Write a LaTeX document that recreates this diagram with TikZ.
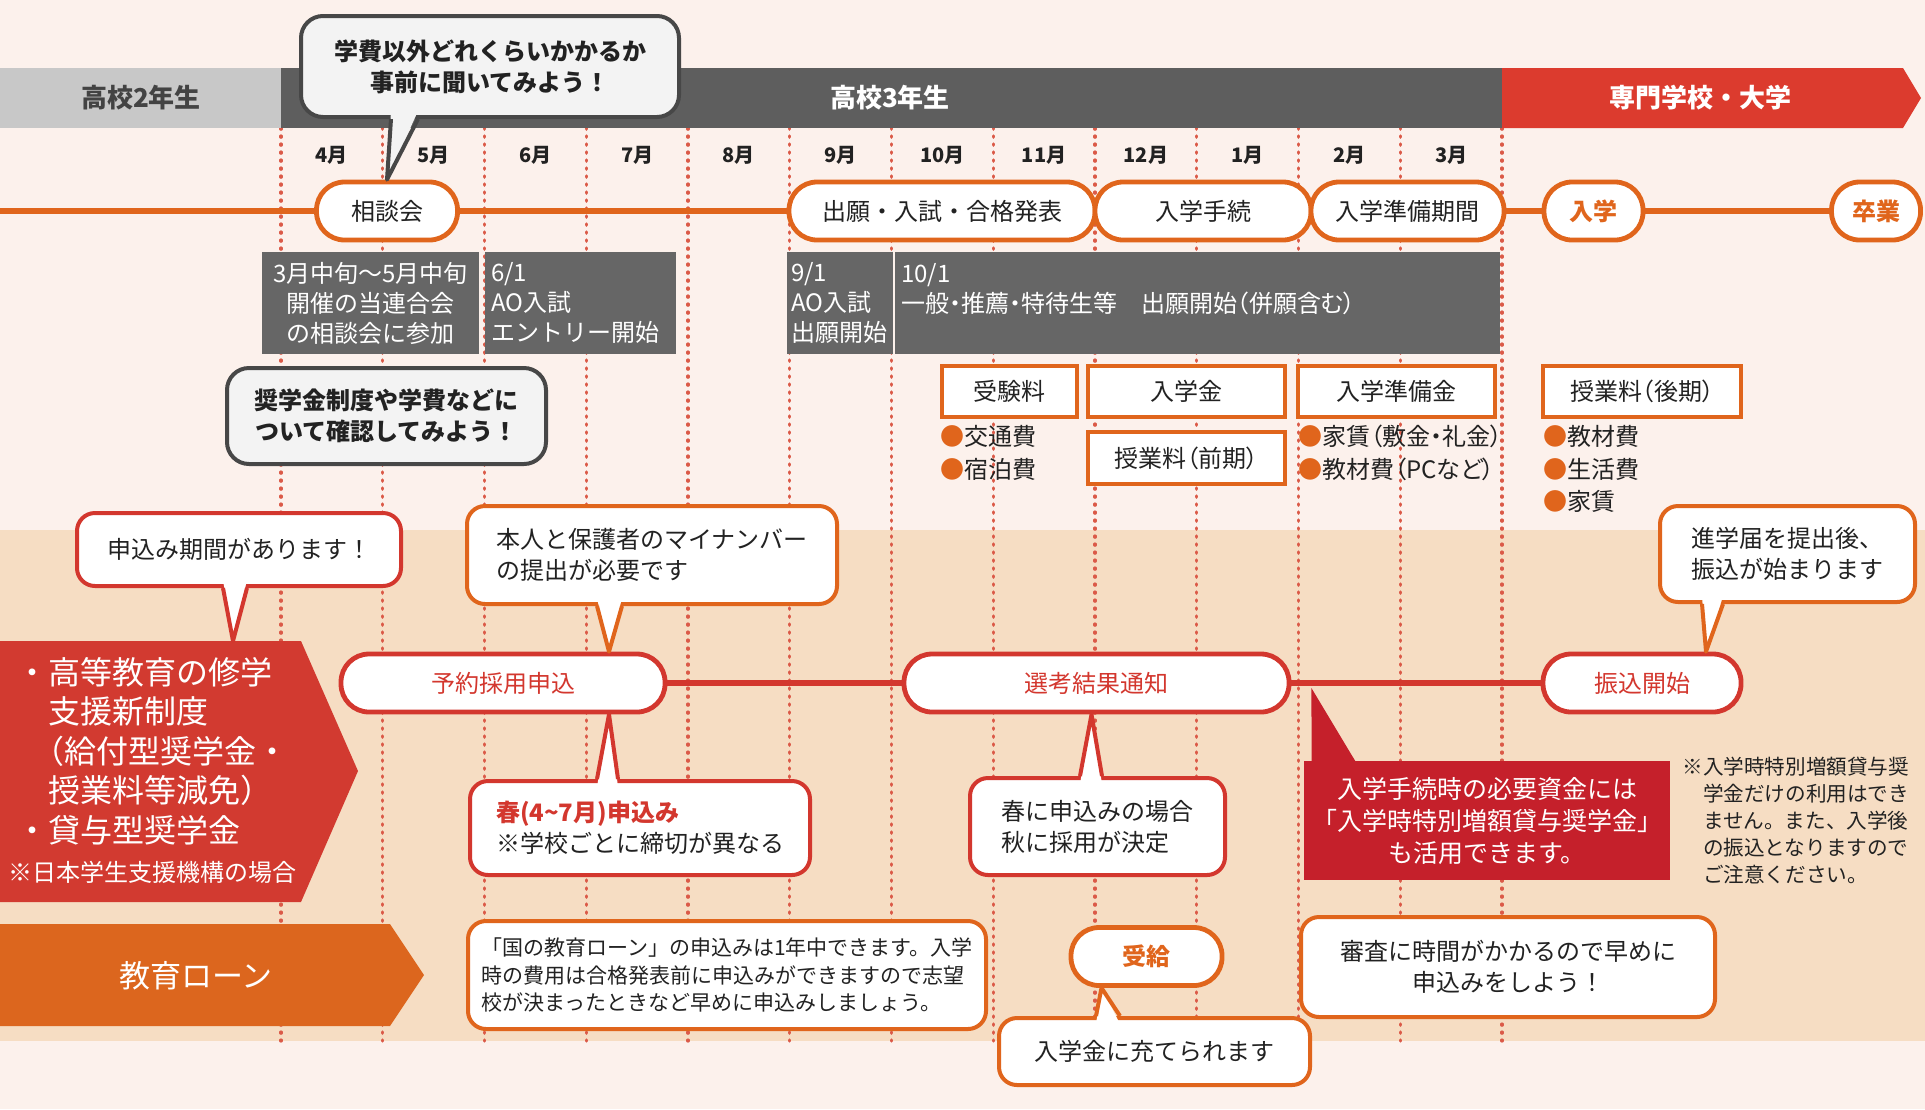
\documentclass[tikz,border=0pt]{standalone}
\usepackage{fontspec}
\setmainfont{Noto Sans CJK JP}
\usetikzlibrary{calc}

\definecolor{bgpink}{HTML}{FCF1EC}
\definecolor{bgtan}{HTML}{F6DDC3}
\definecolor{bandlight}{HTML}{C8C8C8}
\definecolor{banddark}{HTML}{5E5E5E}
\definecolor{bandred}{HTML}{DC3B2E}
\definecolor{tlorange}{HTML}{E0651C}
\definecolor{tlred}{HTML}{D3372E}
\definecolor{shienred}{HTML}{D23A30}
\definecolor{loanorange}{HTML}{DC661E}
\definecolor{infogray}{HTML}{666666}
\definecolor{qfill}{HTML}{F3F3F3}
\definecolor{qline}{HTML}{474747}
\definecolor{notered}{HTML}{C5202B}
\definecolor{ink}{HTML}{222222}
\definecolor{dotline}{HTML}{DB5A48}

\newcommand\bul{\textcolor{tlorange}{●}}
\newcommand\prop{\addfontfeature{RawFeature=+palt}}

\begin{document}
\begin{tikzpicture}[x=0.5pt, y=-0.5pt,
    month/.style={font=\bfseries\fontsize{10pt}{12pt}\selectfont, text=ink},
    band/.style={font=\bfseries\fontsize{13pt}{15pt}\selectfont},
    pill/.style={draw=#1, line width=2.4pt, fill=white, rounded corners=14pt, minimum height=29pt, inner sep=0pt, text=ink, font=\fontsize{12pt}{15pt}\selectfont},
    infobox/.style={fill=infogray, text=white, minimum height=51pt, inner sep=3pt, font=\fontsize{12pt}{15pt}\selectfont},
    think/.style={draw=qline, fill=qfill, line width=2pt, rounded corners=11pt, text=ink, align=center, font=\bfseries\fontsize{12pt}{15.5pt}\selectfont},
    costbox/.style={draw=tlorange, fill=white, line width=2pt, minimum height=25.5pt, inner sep=2pt, text=ink, font=\prop\fontsize{12pt}{15pt}\selectfont},
    costlist/.style={anchor=north west, align=left, inner sep=0pt, text=ink, font=\prop\fontsize{12pt}{16.25pt}\selectfont},
    balloon/.style={draw=#1, fill=white, line width=2pt, rounded corners=9pt, text=ink, align=left, font=\fontsize{12pt}{15.5pt}\selectfont},
    monthline/.style={dotline, line width=1.6pt, line cap=round, dash pattern=on 0.6pt off 3.4pt},
    tline/.style={#1, line width=3pt}
]
    \useasboundingbox (0,0) rectangle (1925,1109);
    \fill[bgpink] (0,0) rectangle (1925,1109);
    \fill[bgtan] (0,530) rectangle (1925,1041);

    \foreach \i in {0,...,12}
        \draw[monthline] ({281+101.75*\i},128) -- ({281+101.75*\i},1041);

    % school years
    \fill[bandlight] (0,68) rectangle (281,128);
    \fill[banddark] (281,68) rectangle (1502,128);
    \fill[bandred] (1502,68) -- (1903,68) -- (1921,98) -- (1903,128) -- (1502,128) -- cycle;
    \node[band, text=ink!85] (year2) at (141,98) {高校2年生};
    \node[band, text=white] (year3) at (890,98) {高校3年生};
    \node[band, text=white] (college) at (1700,98) {専門学校・大学};

    \foreach \m [count=\i from 0] in {4,5,6,7,8,9,10,11,12,1,2,3}
        \node[month] (mon\i) at ({281+101.75*(\i+0.5)},155) {\m 月};

    % main timeline
    \node[pill=tlorange, minimum width=70.5pt] (sodan) at (387,211) {相談会};
    \node[pill=tlorange, minimum width=153pt] (shutsugan) at (942,211) {出願・入試・合格発表};
    \node[pill=tlorange, minimum width=108pt] (tetsuzuki) at (1203,211) {入学手続};
    \node[pill=tlorange, minimum width=96.5pt] (junbi) at (1407.5,211) {入学準備期間};
    \node[pill=tlorange, minimum width=49.5pt, text=tlorange, font=\bfseries\fontsize{12pt}{15pt}\selectfont] (nyugaku) at (1593.5,211) {入学};
    \node[pill=tlorange, minimum width=44.5pt, text=tlorange, font=\bfseries\fontsize{12pt}{15pt}\selectfont] (sotsugyo) at (1876,211) {卒業};
    \coordinate (tlStart) at (0,211);
    \draw[tline=tlorange] (tlStart) -- (sodan.west);
    \draw[tline=tlorange] (sodan.east) -- (shutsugan.west);
    \draw[tline=tlorange] (junbi.east) -- (nyugaku.west);
    \draw[tline=tlorange] (nyugaku.east) -- (sotsugyo.west);

    \node[think, minimum width=189pt, minimum height=50.5pt] (qTop) at (490,66.5) {学費以外どれくらいかかるか\\事前に聞いてみよう！};
    \fill[qfill] ($(qTop.south west)+(92,-8)$) -- (sodan.north) -- ($(qTop.south west)+(119,-8)$) -- cycle;
    \draw[qline, line width=2pt, line join=round] ($(qTop.south west)+(92,0)$) -- (sodan.north) -- ($(qTop.south west)+(119,0)$);

    % entry schedule
    \node[infobox, minimum width=108.5pt, align=center] (info1) at (370.5,303) {3月中旬～5月中旬\\開催の当連合会\\の相談会に参加};
    \node[infobox, text width=89.5pt, align=left] (info2) at (580.5,303) {6/1\\AO入試\\エントリー開始};
    \node[infobox, inner xsep=2pt, text width=49pt, align=left] (info3) at (840,303) {9/1\\AO入試\\出願開始};
    \node[infobox, text width=296.5pt, align=left, font=\prop\fontsize{12pt}{15pt}\selectfont] (info4) at (1197.5,303) {10/1\\一般・推薦・特待生等　出願開始（併願含む）\\\mbox{}};

    \node[think, minimum width=159.5pt, minimum height=48pt] (qCheck) at (386.5,416) {奨学金制度や学費などに\\ついて確認してみよう！};

    % costs
    \node[costbox, minimum width=67.5pt] (juken) at (1009.5,391.5) {受験料};
    \node[costbox, minimum width=98.5pt] (nyukin) at (1186.5,391.5) {入学金};
    \node[costbox, minimum width=98.5pt] (junkin) at (1396.5,391.5) {入学準備金};
    \node[costbox, minimum width=99pt] (kouki) at (1642,391.5) {授業料（後期）};
    \node[costbox, minimum width=98.5pt, minimum height=26pt] (zenki) at (1186.5,458) {授業料（前期）};
    \node[costlist] (list1) at (940,425) {\bul 交通費\\\bul 宿泊費};
    \node[costlist] (list2) at (1298,425) {\bul 家賃（敷金・礼金）\\\bul 教材費（PCなど）};
    \node[costlist] (list3) at (1543,425) {\bul 教材費\\\bul 生活費\\\bul 家賃};

    % scholarship
    \fill[shienred] (0,641) -- (301,641) -- (358,771) -- (301,902) -- (0,902) -- cycle;
    \coordinate (shienTop) at (233,641);
    \node[anchor=north west, align=left, inner sep=0pt, text=white, font=\fontsize{16pt}{19.75pt}\selectfont] (shienText) at (16,657) {・高等教育の修学\\\hspace*{1em}支援新制度\\\hspace*{0.5em}（給付型奨学金・\\\hspace*{1em}授業料等減免）\\・貸与型奨学金};
    \node[anchor=west, inner sep=0pt, text=white, font=\fontsize{12pt}{14pt}\selectfont] (shienNote) at (8,872) {※日本学生支援機構の場合};

    \node[pill=tlred, minimum width=162pt, text=tlred] (yoyaku) at (503,683) {予約採用申込};
    \node[pill=tlred, minimum width=192.5pt, text=tlred] (senko) at (1096.5,683) {選考結果通知};
    \node[pill=tlred, minimum width=99pt, text=tlred] (furikomi) at (1642,683) {振込開始};
    \draw[tline=tlred] (yoyaku.east) -- (senko.west);
    \draw[tline=tlred] (senko.east) -- (furikomi.west);

    \node[balloon=tlred, minimum width=162pt, minimum height=36.5pt, align=center] (cPeriod) at (239,549.5) {申込み期間があります！};
    \fill[white] ($(cPeriod.south west)+(148,-8)$) -- (shienTop) -- ($(cPeriod.south west)+(172,-8)$) -- cycle;
    \draw[tlred, line width=2pt, line join=round] ($(cPeriod.south west)+(148,0)$) -- (shienTop) -- ($(cPeriod.south west)+(172,0)$);

    \node[balloon=tlorange, minimum width=185pt, minimum height=49pt] (cMyNum) at (652,555) {本人と保護者のマイナンバー\\の提出が必要です};
    \fill[white] ($(cMyNum.south west)+(132,-8)$) -- ($(yoyaku.north)+(106,0)$) -- ($(cMyNum.south west)+(157,-8)$) -- cycle;
    \draw[tlorange, line width=2pt, line join=round] ($(cMyNum.south west)+(132,0)$) -- ($(yoyaku.north)+(106,0)$) -- ($(cMyNum.south west)+(157,0)$);

    \node[balloon=tlred, minimum width=170pt, minimum height=47pt] (cSpring) at (640,828) {\textcolor{tlred}{\bfseries 春(4\char"7E 7月)申込み}\\※学校ごとに締切が異なる};
    \fill[white] ($(cSpring.north west)+(129,8)$) -- ($(yoyaku.south)+(106,0)$) -- ($(cSpring.north west)+(150,8)$) -- cycle;
    \draw[tlred, line width=2pt, line join=round] ($(cSpring.north west)+(129,0)$) -- ($(yoyaku.south)+(106,0)$) -- ($(cSpring.north west)+(150,0)$);

    \node[balloon=tlred, minimum width=127.5pt, minimum height=48.5pt] (cAutumn) at (1097.5,826.5) {春に申込みの場合\\秋に採用が決定};
    \fill[white] ($(cAutumn.north west)+(112,8)$) -- ($(senko.south)+(-5,0)$) -- ($(cAutumn.north west)+(134,8)$) -- cycle;
    \draw[tlred, line width=2pt, line join=round] ($(cAutumn.north west)+(112,0)$) -- ($(senko.south)+(-5,0)$) -- ($(cAutumn.north west)+(134,0)$);

    \node[fill=notered, text=white, minimum width=183pt, minimum height=59.5pt, align=center, font=\fontsize{12.5pt}{16pt}\selectfont] (cRed) at (1487,820.5) {入学手続時の必要資金には\\「入学時特別増額貸与奨学金」\\も活用できます。};
    \coordinate (redTip) at ($(senko.east)+(20,5)$);
    \fill[notered] (redTip) -- ($(cRed.north west)+(8,1)$) -- ($(cRed.north west)+(52,1)$) -- cycle;

    \node[anchor=north west, align=left, inner sep=0pt, text=ink, font=\fontsize{10.3pt}{13.5pt}\selectfont] (noteSmall) at (1682,757) {※入学時特別増額貸与奨\\\hspace*{1em}学金だけの利用はでき\\\hspace*{1em}ません。また、入学後\\\hspace*{1em}の振込となりますので\\\hspace*{1em}ご注意ください。};

    \node[balloon=tlorange, minimum width=127.5pt, minimum height=48pt] (cFuri) at (1787.5,554) {進学届を提出後、\\振込が始まります};
    \fill[white] ($(cFuri.south west)+(44,-8)$) -- ($(furikomi.north)+(64,0)$) -- ($(cFuri.south west)+(65,-8)$) -- cycle;
    \draw[tlorange, line width=2pt, line join=round] ($(cFuri.south west)+(44,0)$) -- ($(furikomi.north)+(64,0)$) -- ($(cFuri.south west)+(65,0)$);

    % education loan
    \fill[loanorange] (0,924) -- (390,924) -- (424,975) -- (390,1026) -- (0,1026) -- cycle;
    \node[text=white, font=\fontsize{15.5pt}{18pt}\selectfont] (loanLabel) at (196,976) {教育ローン};

    \node[balloon=tlorange, minimum width=259pt, minimum height=54pt, font=\fontsize{10.5pt}{13.75pt}\selectfont] (cLoan) at (727,975) {「国の教育ローン」の申込みは1年中できます。入学\\時の費用は合格発表前に申込みができますので志望\\校が決まったときなど早めに申込みしましょう。};
    \node[pill=tlorange, minimum width=75.5pt, text=tlorange, font=\bfseries\fontsize{12pt}{15pt}\selectfont] (jukyu) at (1146.5,956.5) {受給};
    \node[balloon=tlorange, minimum width=155.5pt, minimum height=33.5pt, align=center] (cJuate) at (1154.5,1051.5) {入学金に充てられます};
    \fill[white] ($(cJuate.north west)+(99,8)$) -- ($(jukyu.south)+(-45,0)$) -- ($(cJuate.north west)+(123,8)$) -- cycle;
    \draw[tlorange, line width=2pt, line join=round] ($(cJuate.north west)+(99,0)$) -- ($(jukyu.south)+(-45,0)$) -- ($(cJuate.north west)+(123,0)$);

    \node[balloon=tlorange, minimum width=207pt, minimum height=50pt, align=center] (cEarly) at (1508,967) {審査に時間がかかるので早めに\\申込みをしよう！};
\end{tikzpicture}
\end{document}
